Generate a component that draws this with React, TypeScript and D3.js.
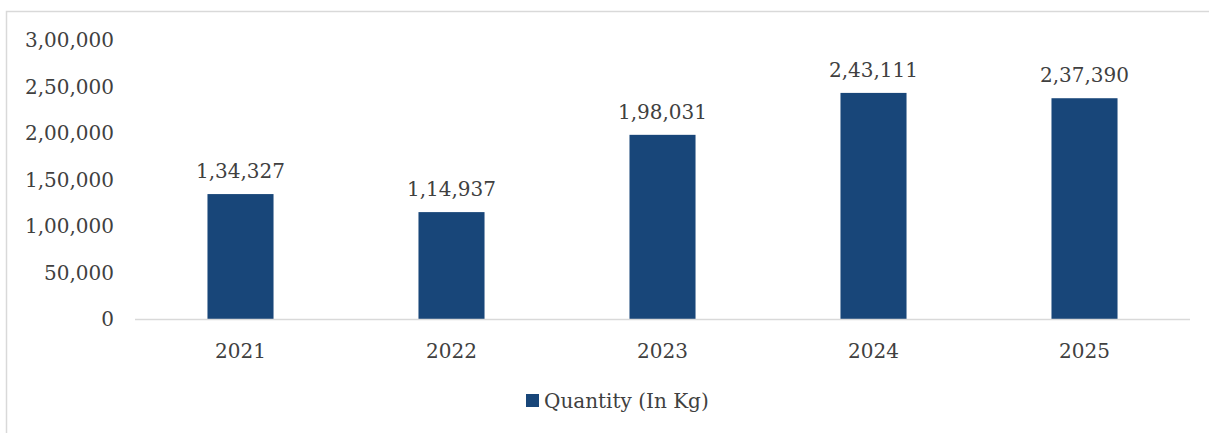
import React from "react";
import * as d3 from "d3";

const categories = ["2021", "2022", "2023", "2024", "2025"];
const quantities = [134327, 114937, 198031, 243111, 237390];
const yTicks = [0, 50000, 100000, 150000, 200000, 250000, 300000];
const seriesName = "Quantity (In Kg)";

const W = 1209;
const H = 433;
const FONT = "'DejaVu Serif', serif";
const BAR = "#184679";
const TEXT = "#404040";
const FS = 20;

function fmtIN(v: number): string {
  return Math.round(v).toLocaleString("en-IN");
}

export default function App() {
  const x = d3.scaleBand<string>().domain(categories).range([135, 1190]).paddingInner(0.687).paddingOuter(0.3435);
  const y = d3.scaleLinear().domain([0, 300000]).range([319, 40]);

  return (
    <svg width={W} height={H} style={{ position: "absolute", left: 0, top: 0, background: "#fff" }} fontFamily={FONT}>
      <rect x={6.5} y={11.5} width={1220} height={440} fill="#fff" stroke="#d9d9d9" strokeWidth={1.5} />
      {yTicks.map((t) => (
        <text key={t} x={114} y={y(t)} dy="0.35em" textAnchor="end" fontSize={FS} fill={TEXT}>
          {fmtIN(t)}
        </text>
      ))}
      {categories.map((c, i) => {
        const bx = x(c)!;
        const bw = x.bandwidth();
        const v = quantities[i];
        return (
          <g key={c}>
            <rect x={bx} y={y(v)} width={bw} height={y(0) - y(v)} fill={BAR} />
            <text x={bx + bw / 2} y={y(v) - 16} textAnchor="middle" fontSize={FS} fill={TEXT}>
              {fmtIN(v)}
            </text>
            <text x={bx + bw / 2} y={358} textAnchor="middle" fontSize={FS} fill={TEXT}>
              {c}
            </text>
          </g>
        );
      })}
      <line x1={135} x2={1190} y1={y(0) + 0.5} y2={y(0) + 0.5} stroke="#d9d9d9" strokeWidth={1.5} />
      <rect x={526} y={394} width={13} height={13} fill={BAR} />
      <text x={544} y={408} fontSize={FS} fill={TEXT}>
        {seriesName}
      </text>
    </svg>
  );
}
